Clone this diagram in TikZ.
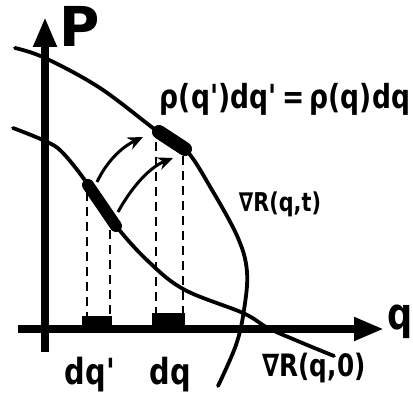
\documentclass[tikz,border=0pt]{standalone}
\usepackage{fontspec}
\setmainfont{DejaVu Sans}
\newfontfamily\hand[FakeStretch=0.8]{DejaVu Sans}
\usetikzlibrary{arrows.meta}
\begin{document}
\begin{tikzpicture}[x=1pt,y=-1pt,
 axis/.style={line width=8pt,-{Triangle[length=30pt,width=22pt]}},
 curve/.style={line width=3.8pt,line cap=round},
 blob/.style={line width=12pt,line cap=round},
 guide/.style={line width=2.5pt,dash pattern=on 9pt off 6pt},
 flow/.style={line width=3pt,-{Stealth[length=15pt,width=13pt]}},
 lbl/.style={inner sep=0pt}]
\useasboundingbox (0,0) rectangle (413,406);
% axes
\draw[axis] (45,352) -- (45,17);
\draw[axis] (18,329) -- (384,329);
% curves
\draw[curve] plot[smooth,tension=0.6] coordinates {(15,48) (45,58) (100,88) (157,131) (186,150) (212,190) (238,238) (247,272) (244,310) (236,345) (218,386)};
\draw[curve] plot[smooth,tension=0.6] coordinates {(13,128) (45,141) (62,152) (87,183) (117,227) (150,263) (185,290) (243,313) (268,328) (300,342) (334,356)};
% blobs
\coordinate (a1) at (88,185); \coordinate (a2) at (116,226);
\coordinate (b1) at (159,132); \coordinate (b2) at (185,149);
\draw[blob] (a1) -- (a2);
\draw[blob,line width=14pt] (b1) -- (b2);
% axis segments
\fill (82,316) rectangle (112,330);
\fill (152,313) rectangle (185,330);
% dashed guides
\draw[guide] (87,192) -- (87,318);
\draw[guide] (110,230) -- (110,318);
\draw[guide] (156,142) -- (156,315);
\draw[guide] (183,156) -- (183,315);
% flow arrows
\coordinate (s1) at (97,182); \coordinate (e1) at (143,137);
\coordinate (s2) at (118,212); \coordinate (e2) at (173,158);
\draw[flow] (s1) .. controls (106,163) and (120,148) .. (e1);
\draw[flow] (s2) .. controls (130,190) and (148,168) .. (e2);
% labels
\node[lbl] (P) at (80,26) {\fontsize{55}{55}\selectfont\bfseries P};
\node[lbl] (q) at (400,322) {\fontsize{44}{44}\selectfont\hand\bfseries q};
\node[lbl] (eq) at (285,99) {\resizebox{250pt}{!}{\hand\bfseries ρ(q')dq'\,=\,ρ(q)dq}};
\node[lbl] (Rt) at (280,204) {\resizebox{82pt}{!}{\hand\bfseries ∇R(q,t)}};
\node[lbl] (R0) at (314,368) {\resizebox{103pt}{!}{\hand\bfseries ∇R(q,0)}};
\node[lbl] (dqp) at (90,375) {\fontsize{36}{36}\selectfont\hand\bfseries dq'};
\node[lbl] (dq) at (170,375) {\fontsize{36}{36}\selectfont\hand\bfseries dq};
\end{tikzpicture}
\end{document}
